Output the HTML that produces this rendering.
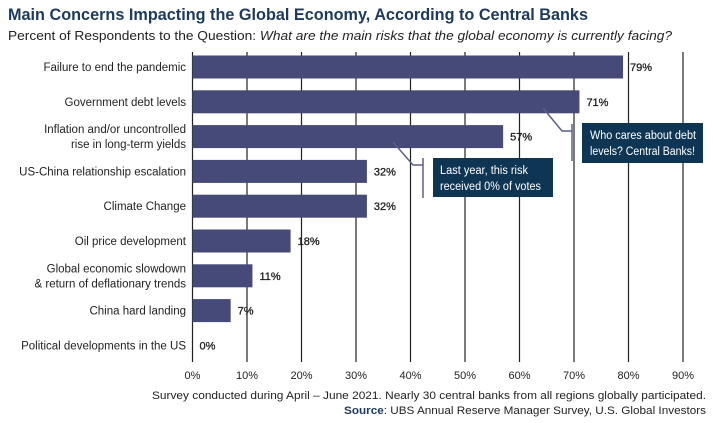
<!DOCTYPE html>
<html><head><meta charset="utf-8"><style>
body{margin:0;background:#fff;}
svg{display:block;font-family:"Liberation Sans",sans-serif;}
</style></head><body>
<svg id="chart" width="713" height="423" viewBox="0 0 713 423">
<text x="8" y="20" font-size="17" font-weight="bold" fill="#1d3a5c" textLength="580" lengthAdjust="spacingAndGlyphs">Main Concerns Impacting the Global Economy, According to Central Banks</text>
<text x="8" y="40" font-size="12.5" fill="#222" textLength="664" lengthAdjust="spacingAndGlyphs">Percent of Respondents to the Question: <tspan font-style="italic">What are the main risks that the global economy is currently facing?</tspan></text>
<g id="grid"></g>
<g id="bars"></g>
<g id="labels"></g>
<g id="ticks"></g>
<g>
<polyline points="543,108 562,131 572,131" fill="none" stroke="#5a5f8a" stroke-width="1.5"/>
<line x1="572" y1="124" x2="572" y2="161" stroke="#5a5f8a" stroke-width="1.5"/>
<rect x="582" y="123" width="121" height="40" fill="#0f3554"/>
<text x="590" y="139" font-size="11.5" fill="#fff" textLength="106" lengthAdjust="spacingAndGlyphs">Who cares about debt</text>
<text x="590" y="155" font-size="11.5" fill="#fff" textLength="105" lengthAdjust="spacingAndGlyphs">levels? Central Banks!</text>
</g>
<g>
<polyline points="393,142 413,165 423,165" fill="none" stroke="#5a5f8a" stroke-width="1.5"/>
<line x1="423" y1="158" x2="423" y2="198" stroke="#5a5f8a" stroke-width="1.5"/>
<rect x="433" y="158" width="120" height="39" fill="#0f3554"/>
<text x="440" y="174" font-size="11.5" fill="#fff" textLength="88" lengthAdjust="spacingAndGlyphs">Last year, this risk</text>
<text x="440" y="190" font-size="11.5" fill="#fff" textLength="101" lengthAdjust="spacingAndGlyphs">received 0% of votes</text>
</g>
<text x="706" y="399" font-size="11" fill="#222" text-anchor="end" textLength="554" lengthAdjust="spacingAndGlyphs">Survey conducted during April – June 2021. Nearly 30 central banks from all regions globally participated.</text>
<text x="706" y="414" font-size="11" fill="#222" text-anchor="end" textLength="362" lengthAdjust="spacingAndGlyphs"><tspan font-weight="bold" fill="#1d3a5c">Source</tspan>: UBS Annual Reserve Manager Survey, U.S. Global Investors</text>
</svg>
<script>
const categories = [["Failure to end the pandemic"],["Government debt levels"],["Inflation and/or uncontrolled","rise in long-term yields"],["US-China relationship escalation"],["Climate Change"],["Oil price development"],["Global economic slowdown","& return of deflationary trends"],["China hard landing"],["Political developments in the US"]];
const values = [79,71,57,32,32,18,11,7,0];
const tickValues = [0,10,20,30,40,50,60,70,80,90];
const NS="http://www.w3.org/2000/svg";
const x0=192.5, pxPer=5.45;
function xs(v){return x0+v*pxPer;}
const rowTop=50, rowH=34.8;
function yc(i){return rowTop+rowH*i+17;}
function mk(tag,attrs,parent){const e=document.createElementNS(NS,tag);for(const k in attrs)e.setAttribute(k,attrs[k]);parent.appendChild(e);return e;}
const grid=document.getElementById('grid'),bars=document.getElementById('bars'),labels=document.getElementById('labels'),ticks=document.getElementById('ticks');
tickValues.forEach(t=>{
  const l=mk('line',{x1:xs(t),x2:xs(t),y1:52,y2:362,stroke:'#222','stroke-width':1.2},grid);
  
  
  const tx=mk('text',{x:xs(t),y:379,'font-size':11,'text-anchor':'middle',fill:'#222'},ticks);
  tx.textContent=t+'%';
  
  
});
values.forEach((v,i)=>{
  const y=yc(i);
  if(v>0){
    const r=mk('rect',{x:x0,y:y-11.5,width:xs(v)-x0,height:23,fill:'#464a78'},bars);
    
    
  }
  const vl=mk('text',{x:xs(v)+7,y:y+4,'font-size':11,fill:'#222',stroke:'#222','stroke-width':0.3},labels);
  vl.textContent=v+'%';
  
  
  const lines=categories[i];
  lines.forEach((s,j)=>{
    const ty=y+4+(j-(lines.length-1)/2)*15;
    const ct=mk('text',{x:186,y:ty,'font-size':11.5,'text-anchor':'end',fill:'#222'},labels);
    ct.textContent=s;
    
    
  });
});
</script>
</body></html>
